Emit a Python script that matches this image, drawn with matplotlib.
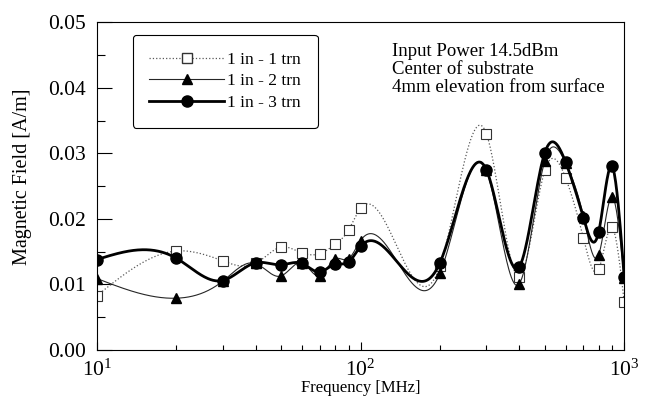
import numpy as np
import matplotlib
matplotlib.use('Agg')
import matplotlib.pyplot as plt

plt.rcParams['font.family'] = ['Liberation Serif', 'DejaVu Serif']
plt.rcParams['mathtext.fontset'] = 'custom'
plt.rcParams['mathtext.rm'] = 'Liberation Serif'
plt.rcParams['mathtext.it'] = 'Liberation Serif:italic'

freq = [10, 20, 30, 40, 50, 60, 70, 80, 90, 100, 200, 300, 400, 500, 600, 700, 800, 900, 1000]
turn1 = [0.0083, 0.0151, 0.0136, 0.0132, 0.0157, 0.0148, 0.0147, 0.0161, 0.0183, 0.0216,
         0.0128, 0.0330, 0.0112, 0.0274, 0.0262, 0.0171, 0.0123, 0.0187, 0.0073]
turn2 = [0.0109, 0.0079, 0.0105, 0.0132, 0.0113, 0.0133, 0.0113, 0.0139, 0.0139, 0.0167,
         0.0117, 0.0274, 0.0101, 0.0289, 0.0285, 0.0204, 0.0145, 0.0234, 0.0110]
turn3 = [0.0138, 0.0140, 0.0106, 0.0133, 0.0130, 0.0132, 0.0119, 0.0131, 0.0134, 0.0158,
         0.0133, 0.0275, 0.0127, 0.0301, 0.0286, 0.0202, 0.0180, 0.0280, 0.0111]
labels = ['1 in - 1 trn', '1 in - 2 trn', '1 in - 3 trn']


def smooth(xs, ys, n=800):
    # natural cubic spline through the points, in log-x
    t = np.log10(xs)
    y = np.asarray(ys, float)
    k = len(t)
    h = np.diff(t)
    A = np.zeros((k, k))
    b = np.zeros(k)
    A[0, 0] = A[-1, -1] = 1
    for i in range(1, k - 1):
        A[i, i - 1] = h[i - 1]
        A[i, i] = 2 * (h[i - 1] + h[i])
        A[i, i + 1] = h[i]
        b[i] = 3 * ((y[i + 1] - y[i]) / h[i] - (y[i] - y[i - 1]) / h[i - 1])
    c = np.linalg.solve(A, b)
    tt = np.linspace(t[0], t[-1], n)
    idx = np.clip(np.searchsorted(t, tt) - 1, 0, k - 2)
    d = tt - t[idx]
    bb = (y[idx + 1] - y[idx]) / h[idx] - h[idx] * (2 * c[idx] + c[idx + 1]) / 3
    dd = (c[idx + 1] - c[idx]) / (3 * h[idx])
    yy = y[idx] + bb * d + c[idx] * d ** 2 + dd * d ** 3
    return 10 ** tt, yy


fig = plt.figure(figsize=(6.55, 4.03), dpi=100)
ax = fig.add_axes([0.148, 0.1315, 0.805, 0.8135])

sx, sy = smooth(freq, turn1)
ax.plot(sx, sy, ':', color='0.35', lw=0.9)
ax.plot(freq, turn1, 's', mfc='white', mec='0.2', ms=6.5, mew=0.8)
sx, sy = smooth(freq, turn2)
ax.plot(sx, sy, '-', color='0.15', lw=0.8)
ax.plot(freq, turn2, '^', color='black', ms=7)
sx, sy = smooth(freq, turn3)
ax.plot(sx, sy, '-', color='black', lw=2.0)
ax.plot(freq, turn3, 'o', color='black', ms=8)

# legend proxies
h1, = ax.plot([], [], ':', color='0.35', lw=0.9, marker='s', mfc='white', mec='0.2', ms=6.5)
h2, = ax.plot([], [], '-', color='0.15', lw=0.8, marker='^', mfc='black', mec='black', ms=7)
h3, = ax.plot([], [], '-', color='black', lw=2.0, marker='o', mfc='black', mec='black', ms=8)
leg = ax.legend([h1, h2, h3], labels, loc='upper left', bbox_to_anchor=(0.068, 0.961),
                fontsize=12.5, handlelength=4.3, numpoints=1, fancybox=True,
                framealpha=1, borderpad=0.95, labelspacing=0.32, handletextpad=0.2,
                borderaxespad=0)
leg.get_frame().set_edgecolor('black')
leg.get_frame().set_linewidth(0.8)

ax.text(0.56, 0.937, 'Input Power 14.5dBm\nCenter of substrate\n4mm elevation from surface',
        transform=ax.transAxes, ha='left', va='top', fontsize=13.5, linespacing=1.1)

ax.set_xscale('log')
ax.set_xlim(10, 1000)
ax.set_ylim(0, 0.05)
ax.set_yticks([0, 0.01, 0.02, 0.03, 0.04, 0.05])
ax.set_yticks(np.arange(0.005, 0.05, 0.01), minor=True)
ax.set_yticklabels(['0.00', '0.01', '0.02', '0.03', '0.04', '0.05'])
ax.tick_params(which='both', direction='in', top=False, right=False, labelsize=15.5)
ax.tick_params(axis='y', which='major', length=11, width=0.8, pad=8)
ax.tick_params(axis='y', which='minor', length=5.5, width=0.8)
ax.tick_params(axis='x', which='major', length=6, width=0.8, pad=7)
ax.tick_params(axis='x', which='minor', length=3.5, width=0.8)
for s in ax.spines.values():
    s.set_linewidth(0.8)

ax.set_xlabel('Frequency [MHz]', fontsize=12, labelpad=-1)
ax.set_ylabel('Magnetic Field [A/m]', fontsize=14.5)
ax.yaxis.set_label_coords(-0.123, 0.527)

fig.savefig('out.png', dpi=100)
